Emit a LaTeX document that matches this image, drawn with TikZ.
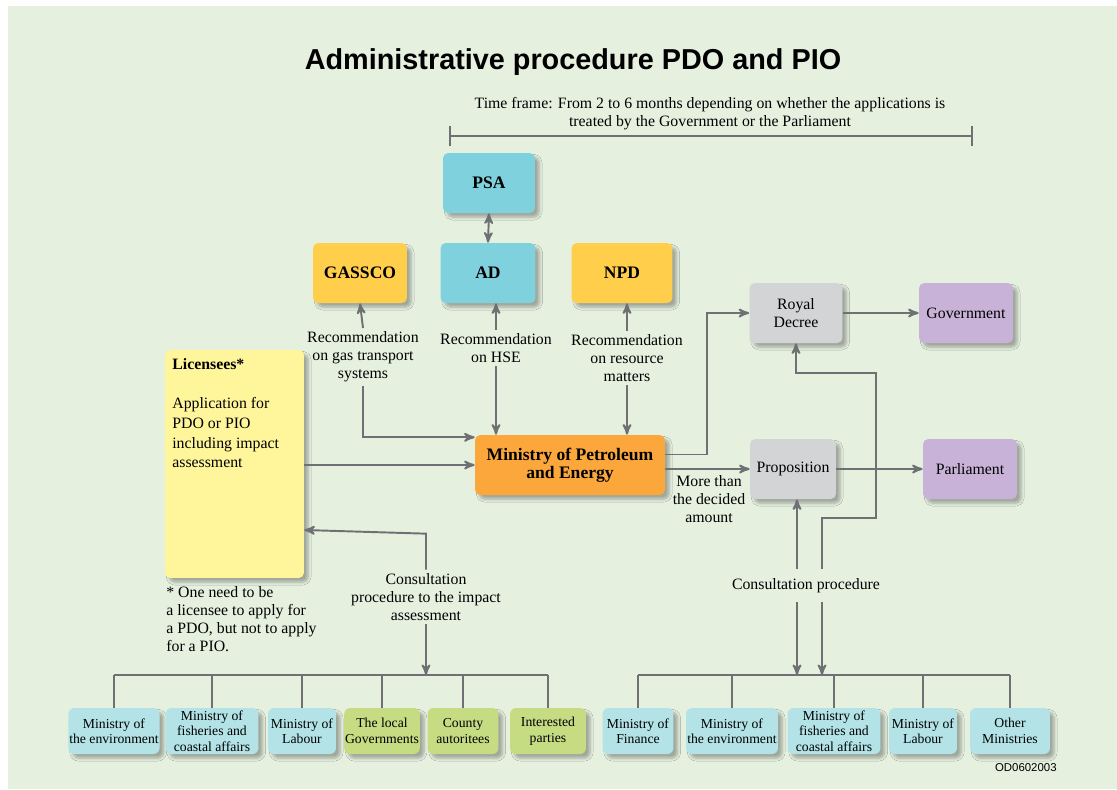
\documentclass[tikz,border=0pt]{standalone}
\usepackage{fontspec}
\setmainfont{Liberation Serif}
\newfontfamily\titlefont{Liberation Sans}
\usetikzlibrary{arrows,shadows,shadows.blur,positioning}

\definecolor{bgcol}{HTML}{E5F0DF}
\definecolor{psacol}{HTML}{7FD1DE}
\definecolor{gascol}{HTML}{FFCF4B}
\definecolor{liccol}{HTML}{FFF59B}
\definecolor{mincol}{HTML}{FBA73B}
\definecolor{greycol}{HTML}{D3D4D6}
\definecolor{purpcol}{HTML}{C9B2D8}
\definecolor{ltcyan}{HTML}{B3E3E6}
\definecolor{ltgreen}{HTML}{C5DC83}
\definecolor{wirecol}{HTML}{6F7073}

\tikzset{
  soft/.style={blur shadow={shadow xshift=2.4pt,shadow yshift=-2.4pt,shadow blur radius=1.6pt,shadow blur steps=6,shadow opacity=30}},
  box/.style={rectangle,rounded corners=3pt,align=center,inner sep=1pt,
    minimum height=1.2cm,font=\fontsize{10}{10.2}\selectfont\bfseries,soft},
  rbox/.style={box,font=\fontsize{9}{10.2}\selectfont},
  minbox/.style={rectangle,rounded corners=3.5pt,align=center,inner sep=0.5pt,
    minimum height=0.92cm,font=\fontsize{7.8}{8.8}\selectfont,soft},
  lbl/.style={align=center,inner sep=2pt,font=\fontsize{9}{10.2}\selectfont},
  wire/.style={draw=wirecol,line width=1.1pt},
  conn/.style={wire,-stealth'}
}

\begin{document}
\begin{tikzpicture}[x=0.02cm,y=-0.02cm]
\fill[white] (0,0) rectangle (1117,789);
\fill[bgcol] (8,6) rectangle (1117,789);

\node at (573,62)[font=\titlefont\bfseries\fontsize{16.4}{18}\selectfont](title){Administrative procedure PDO and PIO};
\node at (710,114)[lbl](tftext){Time frame: From 2 to 6 months depending on whether the applications is\\treated by the Government or the Parliament};
\coordinate (tfl) at (450,136);
\coordinate (tfr) at (972,136);
\draw[wire] (tfl) -- (tfr);
\draw[wire] ([yshift=-5.8pt]tfl) -- ([yshift=5.8pt]tfl);
\draw[wire] ([yshift=-5.8pt]tfr) -- ([yshift=5.8pt]tfr);

\node at (489,183)[box,fill=psacol,minimum width=1.84cm](psa){PSA};
\node at (488,273)[box,fill=psacol,minimum width=1.9cm](ad){AD};
\node at (360,273)[box,fill=gascol,minimum width=1.88cm](gassco){GASSCO};
\node at (622,273)[box,fill=gascol,minimum width=2.02cm](npd){NPD};
\draw[wire,stealth'-stealth'] (psa.south) -- (ad.north);

\node at (363,357)[lbl](gastext){Recommendation\\on gas transport\\systems};
\node at (496,348)[lbl](hsetext){Recommendation\\on HSE};
\node at (627,358)[lbl](restext){Recommendation\\on resource\\matters};

\node at (234.5,464)[rectangle,rounded corners=3pt,fill=liccol,minimum width=2.78cm,minimum height=4.56cm,soft](lic){};
\node at (172,358)[anchor=north west,align=left,inner sep=0pt,font=\fontsize{9}{11.2}\selectfont](lictext){\textbf{Licensees*}\\[11.2pt]Application for\\PDO or PIO\\including impact\\assessment};
\node at (166,586)[anchor=north west,align=left,inner sep=0pt,font=\fontsize{9}{10.2}\selectfont](note){* One need to be\\a licensee to apply for\\a PDO, but not to apply\\for a PIO.};

\node at (570,465)[box,fill=mincol,minimum width=3.8cm](ministry){Ministry of Petroleum\\and Energy};

\node at (796,313)[rbox,fill=greycol,minimum width=1.86cm](royal){Royal\\Decree};
\node at (966,313)[rbox,fill=purpcol,minimum width=1.88cm](gov){Government};
\node at (793,469)[rbox,fill=greycol,minimum width=1.72cm](prop){Proposition};
\node at (970,469)[rbox,fill=purpcol,minimum width=1.88cm](parl){Parliament};
\node at (709,499)[lbl](morethan){More than\\the decided\\amount};

\draw[conn] (gastext.north) -- (gassco.south);
\draw[conn] (hsetext.north) -- (hsetext.north |- ad.south);
\draw[conn] (restext.north) -- (restext.north |- npd.south);
\draw[conn] (gastext.south) |- ([yshift=-1.5pt]ministry.north west);
\draw[conn] (hsetext.south) -- (hsetext.south |- ministry.north);
\draw[conn] (restext.south) -- (restext.south |- ministry.north);
\draw[conn] (lic.east |- ministry.west) -- (ministry.west);
\draw[conn] ([yshift=6pt]ministry.east) -- ++(42,0) |- (royal.west);
\draw[conn] (ministry.east |- prop.west) -- (prop.west);
\draw[conn] (royal) -- (gov);
\draw[conn] (prop) -- (parl);

\node at (426,597)[lbl](lcons){Consultation\\procedure to the impact\\assessment};
\draw[conn] (lcons.north) -- ++(0,-36) -- (lic.east |- 0,530);

\node at (806,586)[lbl,inner ysep=5pt](rcons){Consultation procedure};
\coordinate (wa) at (797,569);
\coordinate (wb) at (822,569);
\coordinate (wc) at (797,602);
\coordinate (wd) at (822,602);
\draw[conn] (wa) -- (wa |- prop.south);
\draw[conn] (wb) -- ++(0,-51) -- ++(54,0) -- ++(0,-145) -| (royal.south);

\node at (114,731)[minbox,fill=ltcyan,minimum width=1.72cm](le1){Ministry of\\the environment};
\node at (212,731)[minbox,fill=ltcyan,minimum width=1.86cm](le2){Ministry of\\fisheries and\\coastal affairs};
\node at (302,731)[minbox,fill=ltcyan,minimum width=1.36cm](le3){Ministry of\\Labour};
\node at (382,731)[minbox,fill=ltgreen,minimum width=1.44cm](le4){The local\\Governments};
\node at (463,731)[minbox,fill=ltgreen,minimum width=1.42cm](le5){County\\autoritees};
\node at (548,731)[minbox,fill=ltgreen,minimum width=1.52cm](le6){Interested\\parties};

\node at (638,731)[minbox,fill=ltcyan,minimum width=1.42cm](re1){Ministry of\\Finance};
\node at (732,731)[minbox,fill=ltcyan,minimum width=1.84cm](re2){Ministry of\\the environment};
\node at (834,731)[minbox,fill=ltcyan,minimum width=1.86cm](re3){Ministry of\\fisheries and\\coastal affairs};
\node at (923,731)[minbox,fill=ltcyan,minimum width=1.36cm](re4){Ministry of\\Labour};
\node at (1010,731)[minbox,fill=ltcyan,minimum width=1.6cm](re5){Other\\Ministries};

\coordinate (busl) at (426,675);
\coordinate (busr) at (797,675);
\draw[wire] (le1.north |- busl) -- (le6.north |- busl);
\draw[wire] (re1.north |- busr) -- (re5.north |- busr);
\foreach \b in {le1,le2,le3,le4,le5,le6,re1,re2,re3,re4,re5}
  \draw[wire] (\b.north) -- (\b.north |- busl);
\draw[conn] (lcons.south) -- (busl);
\draw[conn] (wc) -- (wc |- busr);
\draw[conn] (wd) -- (wd |- busr);

\node at (1057,768)[anchor=east,inner sep=0pt,font=\titlefont\fontsize{6.5}{7}\selectfont](code){OD0602003};
\end{tikzpicture}
\end{document}
